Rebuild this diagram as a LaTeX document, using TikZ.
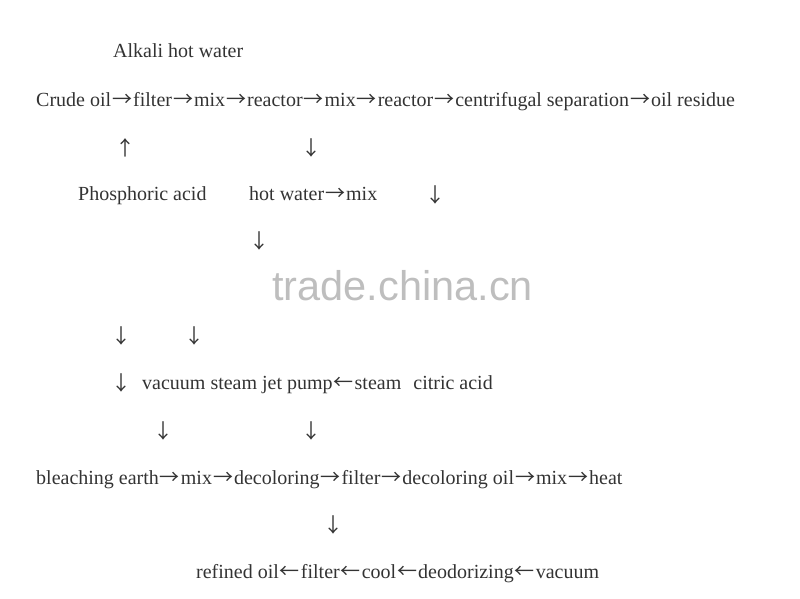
\documentclass[tikz,border=0pt]{standalone}
\usepackage{fontspec}
\setmainfont{Liberation Serif}
\newfontfamily\wmfont{Liberation Sans}
\newfontfamily\cjk{Noto Sans CJK SC}
\newcommand{\ra}{\makebox[1.1em]{\cjk →}}
\newcommand{\la}{\makebox[1.1em]{\cjk ←}}
\newcommand{\ua}{{\cjk ↑}}
\newcommand{\da}{{\cjk ↓}}
\definecolor{txt}{HTML}{333333}
\definecolor{wm}{HTML}{BEBEBE}
\tikzset{
  line/.style={anchor=base west, inner sep=0pt, text=txt, font=\fontsize{20}{24}\selectfont},
  varrow/.style={anchor=base, inner sep=0pt, text=txt, font=\fontsize{20}{24}\selectfont},
  watermark/.style={anchor=base west, inner sep=0pt, text=wm, font=\wmfont\fontsize{41.5}{48}\selectfont}
}
\begin{document}
\begin{tikzpicture}[x=1pt,y=1pt]
\useasboundingbox (0,0) rectangle (800,-598);
\node[line] (alkali) at (113,-57) {Alkali hot water};
\node[line] (crude) at (36,-106) {Crude oil\ra filter\ra mix\ra reactor\ra mix\ra reactor\ra centrifugal separation\ra oil residue};
\node[varrow] (a1) at (125,-155) {\ua};
\node[varrow] (a2) at (311,-155) {\da};
\node[line] (phos) at (78,-200) {Phosphoric acid};
\node[line] (hotw) at (249,-200) {hot water\ra mix};
\node[varrow] (a3) at (435,-202) {\da};
\node[varrow] (a4) at (259,-248) {\da};
\node[watermark] (wm) at (272,-300) {trade.china.cn};
\node[varrow] (a5) at (121,-343) {\da};
\node[varrow] (a6) at (194,-343) {\da};
\node[varrow] (a7) at (121,-390) {\da};
\node[line] (vac) at (142,-389) {vacuum steam jet pump\la steam\hspace{12pt}citric acid};
\node[varrow] (a8) at (163,-438) {\da};
\node[varrow] (a9) at (311,-438) {\da};
\node[line] (bleach) at (36,-484) {bleaching earth\ra mix\ra decoloring\ra filter\ra decoloring oil\ra mix\ra heat};
\node[varrow] (a10) at (333,-532) {\da};
\node[line] (refined) at (196,-578) {refined oil\la filter\la cool\la deodorizing\la vacuum};
\end{tikzpicture}
\end{document}
